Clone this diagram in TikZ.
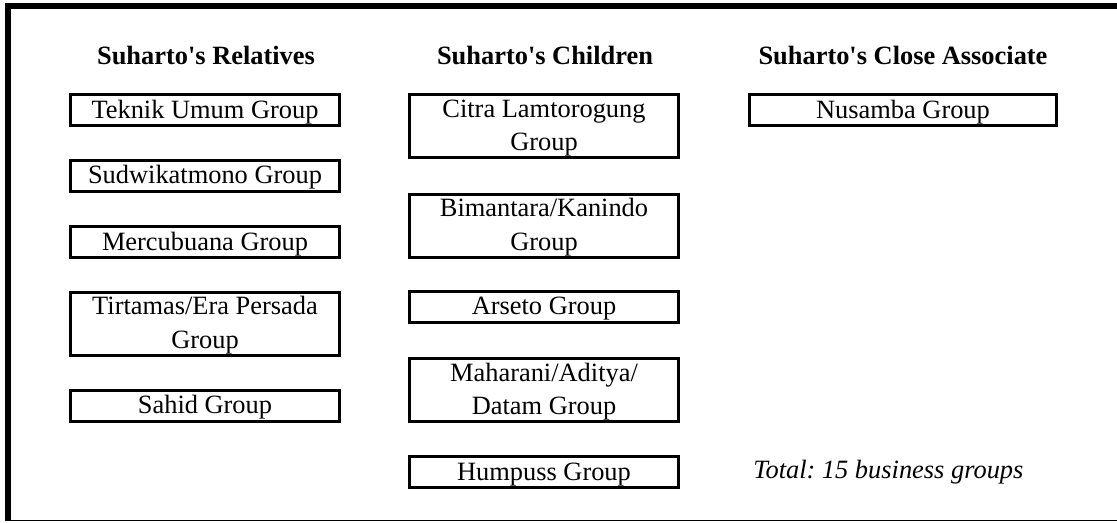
\documentclass[tikz,border=0pt]{standalone}
\usepackage{fontspec}
\setmainfont{Liberation Serif}
\usetikzlibrary{positioning}
\frenchspacing

\begin{document}
\begin{tikzpicture}[x=0.75pt, y=-0.75pt,
      grp/.style={draw, line width=2.25pt, minimum width=201.75pt, minimum height=23.25pt,
                  inner sep=0pt, align=center, text height=16.3pt, font=\fontsize{19.8pt}{25pt}\selectfont},
      tall/.style={minimum height=47.25pt, text height=41.3pt},
      head/.style={font=\fontsize{19.8pt}{24pt}\selectfont\bfseries}]
  \useasboundingbox (0,0) rectangle (1117,522);
  % Frame
  \draw[line width=4.5pt] (8,521) -- (8,6) -- (1117,6);
  \draw[line width=0.75pt] (11,520.5) -- (1117,520.5);
  % Headings
  \node[head] (hrel)   at (206,55) {Suharto\textquotesingle s Relatives};
  \node[head] (hchild) at (545,55) {Suharto\textquotesingle s Children};
  \node[head] (hassoc) at (903,55) {Suharto\textquotesingle s Close Associate};
  % Relatives
  \node[grp]       (teknik)   at (205,110)   {Teknik Umum Group};
  \node[grp]       (sudwi)    at (205,175.5) {Sudwikatmono Group};
  \node[grp]       (mercu)    at (205,242)   {Mercubuana Group};
  \node[grp, tall] (tirtamas) at (205,323.5) {Tirtamas/Era Persada\\Group};
  \node[grp]       (sahid)    at (205,405.5) {Sahid Group};
  % Children
  \node[grp, tall] (citra)    at (544,126)   {Citra Lamtorogung\\Group};
  \node[grp, tall] (bimantara) at (544,225.5) {Bimantara/Kanindo\\Group};
  \node[grp]       (arseto)   at (544,306.5) {Arseto Group};
  \node[grp, tall] (maharani) at (544,390)   {Maharani/Aditya/\\Datam Group};
  \node[grp]       (humpuss)  at (544,472)   {Humpuss Group};
  % Close associate
  \node[grp, minimum width=230.25pt] (nusamba) at (903,110) {Nusamba Group};
  \node[font=\fontsize{19.8pt}{24pt}\selectfont\itshape, anchor=west, inner sep=0pt] (total) at (753,472) {Total: 15 business groups};
\end{tikzpicture}
\end{document}
